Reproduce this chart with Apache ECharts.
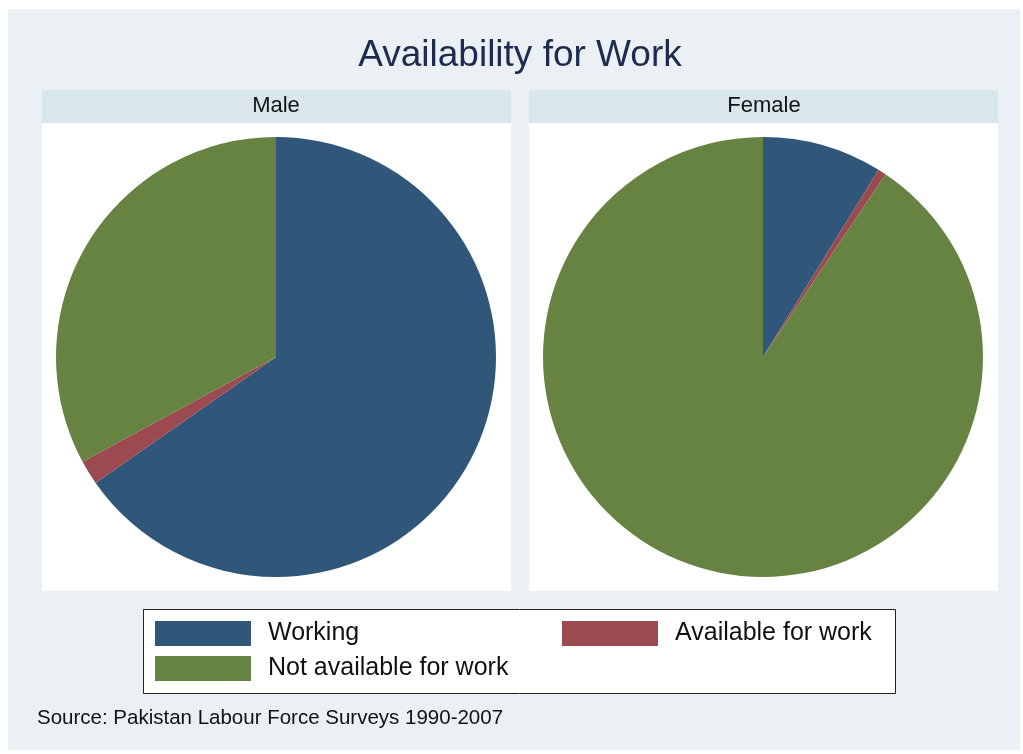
<!DOCTYPE html>
<html>
<head>
<meta charset="utf-8">
<script src="https://cdn.jsdelivr.net/npm/echarts@6/dist/echarts.min.js"></script>
<style>
  html, body { margin: 0; padding: 0; background: #ffffff; }
  #chart { width: 1023px; height: 754px; }
</style>
</head>
<body>
<div id="chart"></div>
<script>
// data (percent of each group)
const categories = ['Working', 'Available for work', 'Not available for work'];
const maleValues = [65.3, 1.8, 32.9];
const femaleValues = [8.8, 0.6, 90.6];
const colors = ['#30567a', '#9b4a50', '#678342'];

const chart = echarts.init(document.getElementById('chart'));

const toData = (vals) => categories.map((name, i) => ({ name: name, value: vals[i] }));

const pieBase = {
  type: 'pie',
  radius: 220,
  startAngle: 90,
  clockwise: true,
  label: { show: false },
  labelLine: { show: false },
  itemStyle: { borderWidth: 0 },
  emphasis: { disabled: true },
  silent: true,
  animation: false
};

const legendBase = {
  orient: 'vertical',
  top: 621,
  padding: 0,
  itemWidth: 96,
  itemHeight: 25,
  itemGap: 10,
  icon: 'rect',
  selectedMode: false,
  textStyle: { fontSize: 25, color: '#111', padding: [0, 0, 0, 12] }
};

const option = {
  color: colors,
  backgroundColor: '#ffffff',
  textStyle: { fontFamily: 'Liberation Sans, Arial, sans-serif' },
  graphic: [
    // outer background
    { type: 'rect', z: -10, shape: { x: 8, y: 9, width: 1012, height: 741 }, style: { fill: '#eaf0f3' } },
    // title
    { type: 'text', z: 5, style: { text: 'Availability for Work', x: 520, y: 56, align: 'center', verticalAlign: 'middle', fontSize: 37, fill: '#1c2b4f', fontFamily: 'Liberation Sans' } },
    // panels
    { type: 'rect', z: -9, shape: { x: 42, y: 90, width: 469, height: 33 }, style: { fill: '#d9e6ec' } },
    { type: 'rect', z: -9, shape: { x: 42, y: 123, width: 469, height: 468 }, style: { fill: '#ffffff' } },
    { type: 'rect', z: -9, shape: { x: 529, y: 90, width: 469, height: 33 }, style: { fill: '#d9e6ec' } },
    { type: 'rect', z: -9, shape: { x: 529, y: 123, width: 469, height: 468 }, style: { fill: '#ffffff' } },
    { type: 'text', z: 5, style: { text: 'Male', x: 276, y: 106, align: 'center', verticalAlign: 'middle', fontSize: 22, fill: '#111', fontFamily: 'Liberation Sans' } },
    { type: 'text', z: 5, style: { text: 'Female', x: 764, y: 106, align: 'center', verticalAlign: 'middle', fontSize: 22, fill: '#111', fontFamily: 'Liberation Sans' } },
    // legend box
    { type: 'rect', z: -8, shape: { x: 143.5, y: 609.5, width: 752, height: 84 }, style: { fill: '#ffffff', stroke: '#222', lineWidth: 1 } },
    { type: 'text', style: { text: 'Source: Pakistan Labour Force Surveys 1990-2007', x: 37, y: 718, verticalAlign: 'middle', fontSize: 20.5, fill: '#111', fontFamily: 'Liberation Sans' } }
  ],
  legend: [
    Object.assign({}, legendBase, { data: ['Working', 'Not available for work'], left: 155 }),
    Object.assign({}, legendBase, { data: ['Available for work'], left: 562 })
  ],
  series: [
    Object.assign({}, pieBase, { name: 'Male', center: [276, 357], data: toData(maleValues) }),
    Object.assign({}, pieBase, { name: 'Female', center: [763, 357], data: toData(femaleValues) })
  ]
};

chart.setOption(option);
</script>
</body>
</html>
